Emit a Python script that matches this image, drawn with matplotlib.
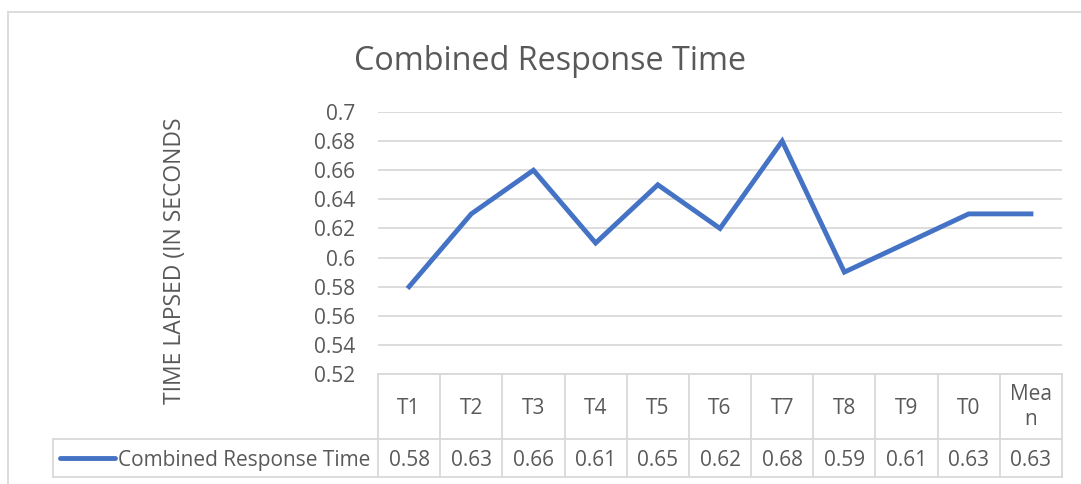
import matplotlib
matplotlib.use("Agg")
import matplotlib.pyplot as plt
from matplotlib.transforms import blended_transform_factory
from matplotlib.lines import Line2D

categories = ["T1", "T2", "T3", "T4", "T5", "T6", "T7", "T8", "T9", "T0", "Mea\nn"]
values = [0.58, 0.63, 0.66, 0.61, 0.65, 0.62, 0.68, 0.59, 0.61, 0.63, 0.63]
series_name = "Combined Response Time"
title = "Combined Response Time"
ylabel = "TIME LAPSED (IN SECONDS"
yticks = [0.52, 0.54, 0.56, 0.58, 0.6, 0.62, 0.64, 0.66, 0.68, 0.7]
ytick_labels = ["0.52", "0.54", "0.56", "0.58", "0.6", "0.62", "0.64", "0.66", "0.68", "0.7"]

W, H = 1081, 484
plt.rcParams['font.family'] = ['Open Sans', 'DejaVu Sans']
TXT = "#595959"
GRID = "#D9D9D9"
BLUE = "#4472C4"

fig = plt.figure(figsize=(W / 100, H / 100), dpi=100)
fig.patch.set_facecolor("white")

def fx(px):
    return px / W

def fy(py):
    return 1 - py / H

# chart border (top and left)
fig.add_artist(Line2D([fx(8), fx(8)], [fy(12), fy(484)], color=GRID, lw=1.3))
fig.add_artist(Line2D([fx(8), fx(1081)], [fy(12), fy(12)], color=GRID, lw=1.3))

L, R, T, B = 378, 1062, 112, 374
ax = fig.add_axes([fx(L), fy(B), fx(R) - fx(L), fy(T) - fy(B)])
n = len(categories)
xs = list(range(n))
ax.plot(xs, values, color=BLUE, lw=3.5, solid_joinstyle="miter", clip_on=False, zorder=3)
ax.set_xlim(-0.5, n - 0.5)
ax.set_ylim(0.52, 0.7)
ax.set_yticks(yticks)
ax.set_yticklabels(ytick_labels)
ax.yaxis.grid(True, color=GRID, lw=1.3)
ax.set_axisbelow(True)
ax.tick_params(axis="y", length=0, pad=16.5, labelsize=15, labelcolor=TXT)
ax.tick_params(axis="x", length=0, labelbottom=False)
for s in ax.spines.values():
    s.set_visible(False)

# table
tr = blended_transform_factory(ax.transData, fig.transFigure)
y_top, y_mid, y_bot = fy(374), fy(439), fy(477)
for i in range(n + 1):
    xb = i - 0.5
    fig.add_artist(Line2D([xb, xb], [y_top, y_bot], color=GRID, lw=1.3, transform=tr))
fig.add_artist(Line2D([-0.5, n - 0.5], [y_top, y_top], color=GRID, lw=1.3, transform=tr))
fig.add_artist(Line2D([fx(53), fx(R)], [y_mid, y_mid], color=GRID, lw=1.3))
fig.add_artist(Line2D([fx(53), fx(R)], [y_bot, y_bot], color=GRID, lw=1.3))
fig.add_artist(Line2D([fx(53), fx(53)], [y_mid, y_bot], color=GRID, lw=1.3))

for i, (c, v) in enumerate(zip(categories, values)):
    if "\n" in c:
        fig.text(i, fy(407), c, transform=tr, ha="center", va="center",
                 fontsize=15, color=TXT, linespacing=1.3)
    else:
        fig.text(i, fy(414), c, transform=tr, ha="center", va="baseline",
                 fontsize=15, color=TXT)
    fig.text(i, fy(466), f"{v:.2f}", transform=tr, ha="center", va="baseline",
             fontsize=15, color=TXT)

fig.add_artist(Line2D([fx(60), fx(115)], [fy(458), fy(458)], color=BLUE, lw=3.5,
                      solid_capstyle="round"))
fig.text(fx(118), fy(466), series_name, ha="left", va="baseline", fontsize=15, color=TXT)

fig.text(fx(550), fy(70), title, ha="center", va="baseline", fontsize=23.3, color=TXT)
fig.text(fx(175), fy(261), ylabel, ha="center", va="center", rotation=90,
         fontsize=16.5, color=TXT)

fig.savefig("out.png", dpi=100, facecolor="white")
